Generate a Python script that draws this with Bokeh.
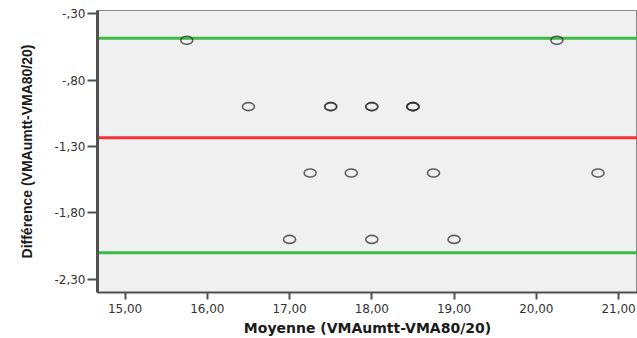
from bokeh.plotting import figure
from bokeh.models import ColumnDataSource, Span, FixedTicker, Range1d
from bokeh.embed import file_html
from bokeh.resources import INLINE

# Data
moyenne = [15.75, 20.25, 16.5, 17.5, 17.5, 18.0, 18.0, 18.5, 18.5, 18.5,
           17.25, 17.75, 18.75, 20.75, 17.0, 18.0, 19.0]
difference = [-0.5, -0.5, -1.0, -1.0, -1.0, -1.0, -1.0, -1.0, -1.0, -1.0,
              -1.5, -1.5, -1.5, -1.5, -2.0, -2.0, -2.0]
bias = -1.235
upper_loa = -0.485
lower_loa = -2.10

x_ticks = [15, 16, 17, 18, 19, 20, 21]
x_tick_labels = ["15,00", "16,00", "17,00", "18,00", "19,00", "20,00", "21,00"]
y_ticks = [-0.3, -0.8, -1.3, -1.8, -2.3]
y_tick_labels = ["-,30", "-,80", "-1,30", "-1,80", "-2,30"]

x_label = "Moyenne (VMAumtt-VMA80/20)"
y_label = "Différence (VMAumtt-VMA80/20)"

p = figure(width=637, height=338, output_backend="svg", toolbar_location=None,
           x_range=Range1d(14.665, 21.23), y_range=Range1d(-2.40, -0.276),
           min_border_left=97, min_border_right=0, min_border_top=10,
           min_border_bottom=46)

p.background_fill_color = "#f0f0f0"
p.border_fill_color = "white"
p.outline_line_color = "#8a8a8a"
p.outline_line_width = 1
p.xgrid.visible = False
p.ygrid.visible = False

for sp_loc, col in [(upper_loa, "#3cba46"), (lower_loa, "#3cba46"), (bias, "#f2333c")]:
    p.add_layout(Span(location=sp_loc, dimension="width", line_color=col,
                      line_width=3, level="underlay"))

src = ColumnDataSource(dict(x=moyenne, y=difference))
p.ellipse(x="x", y="y", width=12, height=8, width_units="screen",
          height_units="screen", source=src, fill_color=None,
          line_color="#333333", line_width=1.6, line_alpha=0.75)

# X axis
p.xaxis.ticker = FixedTicker(ticks=x_ticks)
p.xaxis.major_label_overrides = {t: l for t, l in zip(x_ticks, x_tick_labels)}
p.xaxis.minor_tick_line_color = None
p.xaxis.major_tick_in = 0
p.xaxis.major_tick_out = 7
p.xaxis.major_tick_line_width = 2
p.xaxis.major_tick_line_color = "#505050"
p.xaxis.axis_line_color = "#505050"
p.xaxis.axis_line_width = 2
p.xaxis.major_label_standoff = 4
p.xaxis.major_label_text_font = "DejaVu Sans"
p.xaxis.major_label_text_font_size = "12px"
p.xaxis.major_label_text_color = "#333333"
p.xaxis.axis_label = x_label
p.xaxis.axis_label_text_font = "DejaVu Sans"
p.xaxis.axis_label_text_font_style = "bold"
p.xaxis.axis_label_text_font_size = "14px"
p.xaxis.axis_label_text_color = "#1a1a1a"
p.xaxis.axis_label_standoff = 4

# Y axis
p.yaxis.ticker = FixedTicker(ticks=y_ticks)
p.yaxis.major_label_overrides = {t: l for t, l in zip(y_ticks, y_tick_labels)}
p.yaxis.minor_tick_line_color = None
p.yaxis.major_tick_in = 0
p.yaxis.major_tick_out = 10
p.yaxis.major_tick_line_width = 2
p.yaxis.major_tick_line_color = "#505050"
p.yaxis.axis_line_color = "#505050"
p.yaxis.axis_line_width = 3
p.yaxis.major_label_standoff = 2
p.yaxis.major_label_text_font = "DejaVu Sans"
p.yaxis.major_label_text_font_size = "12px"
p.yaxis.major_label_text_color = "#333333"
p.yaxis.axis_label = y_label
p.yaxis.axis_label_text_font = "Liberation Sans"
p.yaxis.axis_label_text_font_style = "bold"
p.yaxis.axis_label_text_font_size = "14px"
p.yaxis.axis_label_text_color = "#1a1a1a"
p.yaxis.axis_label_standoff = 16

open("out.html", "w").write(file_html(p, INLINE))
